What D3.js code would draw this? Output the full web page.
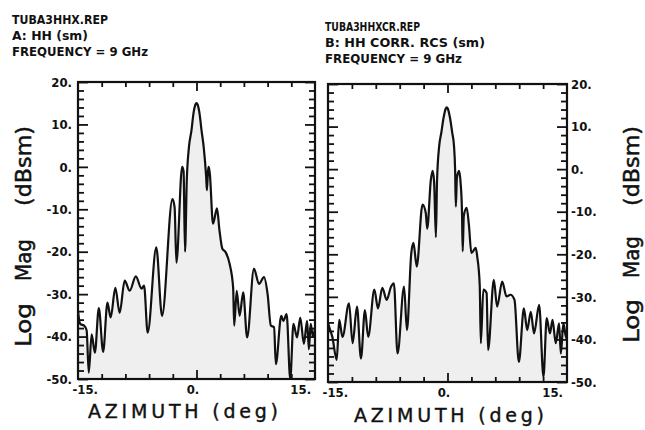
<!DOCTYPE html>
<html>
<head>
<meta charset="utf-8">
<script src="https://cdn.jsdelivr.net/npm/d3@7"></script>
<style>
  body { margin: 0; background: #fff; }
  text { font-family: "DejaVu Sans Condensed", "DejaVu Sans", sans-serif; fill: #111; }
</style>
</head>
<body>
<script>
/* A: HH (sm) -- azimuth (deg) / log mag (dBsm) */
const hhAz = [-16.5, -16.2, -15.6, -15.3, -15.0, -14.6, -14.15, -13.6, -13.0, -12.4, -11.95, -11.3,
  -10.7, -10.0, -9.3, -8.45, -7.65, -7.3, -6.8, -5.6, -4.8, -3.35, -3.05, -2.8, -2.0, -1.8, -1.6,
  -1.35, -1.05, -0.7, -0.42, -0.15, 0.0, 0.15, 0.42, 0.7, 1.0, 1.35, 1.45, 1.6, 1.7, 1.85, 2.3, 2.85, 3.2, 3.6,
  4.05, 4.6, 5.1, 5.25, 5.6, 6.0, 6.5, 7.05, 8.0, 8.7, 9.4, 9.9, 10.35, 10.8, 11.05, 11.8, 12.1,
  12.55, 13.05, 13.5, 14.0, 14.45, 14.95, 15.4, 15.65, 15.9, 16.2, 16.5]
const hhMag = [-34, -37, -37.5, -38.5, -48.5, -39.5, -43.8, -33.3, -43.6, -32, -35.5, -28.5,
  -34.4, -26.8, -29.2, -25.8, -28.7, -28, -39.1, -19, -35.1, -7.6, -9.5, -22.6, 0.0, -1.0, -20,
  -3, 4.7, 8.6, 12.6, 14.7, 15, 14.7, 12.6, 8.6, 4.7, -2.5, -5.5, -1, 0, -1.5, -13.4, -9.8, -15, -19.3,
  -20.1, -22.8, -28.4, -37.4, -29.2, -35.1, -29.6, -40.2, -24, -27.6, -26, -30, -37.4, -37.8, -46.5, -35.1, -36.3,
  -34.7, -50, -37, -40.2, -35.5, -41.7, -36.3, -43, -37, -40, -38]

/* B: HH CORR. RCS (sm) -- right plot */
const corrAz = [-16.5, -16.35, -15.9, -15.3, -14.95, -14.5, -13.6, -13.1, -12.5, -11.95, -11.4, -10.95,
  -10.1, -9.6, -9.0, -8.4, -7.8, -7.4, -6.9, -6.0, -5.6, -5.0, -4.7, -4.25, -3.45, -3.0, -2.8,
  -2.3, -2.05, -1.85, -1.6, -1.45, -1.15, -0.85, -0.55, -0.25, -0.1, 0.05, 0.35, 0.65, 0.9, 1.05, 1.15, 1.3,
  1.6, 1.8, 2.0, 2.1, 2.25, 2.65, 2.95, 3.3, 3.9, 4.1, 4.45, 4.6, 4.95, 5.4, 5.6, 6.4, 6.85,
  7.55, 8.15, 8.7, 9.25, 9.85, 10.55, 11.0, 11.5, 11.95, 12.65, 13.25, 13.7, 14.15, 14.5, 14.95,
  15.4, 15.65, 16.0, 16.3, 16.5]
const corrMag = [-36, -37, -39.4, -44.8, -35.4, -39.4, -31.5, -40.9, -32.3, -44.5, -33.1, -39.4,
  -28.3, -32.7, -27.9, -30.7, -27.6, -26.8, -43.3, -27.6, -37.8, -19.7, -17.3, -22.9, -8.3, -10.3, -14,
  -2.5, -0.4, -3, -16, -3, 5.4, 8.6, 12, 14.2, 14.5, 14.2, 12, 8.6, 5.4, 0, -8.8, -2,
  -0.4, -3, -10, -19.3, -11, -9.1, -13, -19.7, -18.5, -20.5, -27.2, -40.9, -28.3, -29.1, -42.5, -26, -32.3,
  -26.4, -29.9, -29.5, -30.7, -45.3, -32.7, -37.8, -33.5, -38.6, -31.9, -48.8, -35, -38.6, -35.4, -40.9,
  -36.2, -43.3, -36.2, -39, -40]

const magLabels = [20, 10, 0, -10, -20, -30, -40, -50]
const magMinor = [-48, -46, -44, -42, -38, -36, -34, -32, -28, -26, -24, -22, -18, -16, -14, -12,
  -8, -6, -4, -2, 2, 4, 6, 8, 12, 14, 16, 18]
const azLabels = [-15, 0, 15]
const azTicks = [-13.2, -9.9, -6.6, -3.3, 0, 3.3, 6.6, 9.9, 13.2]

const leftHeader = ['TUBA3HHX.REP', 'A: HH (sm)', 'FREQUENCY = 9 GHz']
const rightHeader = ['TUBA3HHXCR.REP', 'B: HH CORR. RCS (sm)', 'FREQUENCY = 9 GHz']

const width = 645, height = 430

const svg = d3.select('body')
  .append('svg')
  .attr('width', width)
  .attr('height', height)

const fmt = d => d + '.'

const drawPanel = (p) => {
  const x = d3.scaleLinear().domain([-16.5, 16.5]).range([p.left, p.right])
  const y = d3.scaleLinear().domain([-50, 20]).range([p.bottom, p.top])
  const pts = p.az.map((a, i) => ({az: a, mag: p.mag[i]}))
  const g = svg.append('g')

  // shaded area under the trace
  g.append('path')
    .datum(pts)
    .attr('fill', '#efefef')
    .attr('d', d3.area().curve(d3.curveMonotoneX)
      .x(d => x(d.az)).y0(p.bottom).y1(d => y(d.mag)))

  g.append('path')
    .datum(pts)
    .attr('fill', 'none')
    .attr('stroke', '#111')
    .attr('stroke-width', 2.2)
    .attr('stroke-linejoin', 'round')
    .attr('d', d3.line().curve(d3.curveMonotoneX)
      .x(d => x(d.az)).y(d => y(d.mag)))

  /* inner ticks on all four sides */
  const tickAxes = [
    [d3.axisTop(x).tickValues(azTicks).tickSize(5), `translate(0,${p.bottom})`],
    [d3.axisBottom(x).tickValues(azTicks).tickSize(5), `translate(0,${p.top})`],
    [d3.axisRight(y).tickValues(magMinor).tickSize(6), `translate(${p.left},0)`],
    [d3.axisRight(y).tickValues(magLabels).tickSize(10), `translate(${p.left},0)`],
    [d3.axisLeft(y).tickValues(magMinor).tickSize(6), `translate(${p.right},0)`],
    [d3.axisLeft(y).tickValues(magLabels).tickSize(10), `translate(${p.right},0)`]
  ]
  tickAxes.forEach(([axis, tr], i) => {
    const a = g.append('g').attr('transform', tr).call(axis.tickFormat(''))
    a.select('.domain').remove()
    a.selectAll('line').attr('stroke', '#111').attr('stroke-width', 1.8)
    if (i < 2) a.selectAll('.tick').filter(d => d === 0).select('line').attr('y2', i === 0 ? -9 : 9)
  })

  g.append('rect')
    .attr('x', p.left).attr('y', p.top)
    .attr('width', p.right - p.left).attr('height', p.bottom - p.top)
    .attr('fill', 'none').attr('stroke', '#111').attr('stroke-width', 2.2)

  /* tick labels */
  const xl = g.append('g')
    .attr('transform', `translate(0,${p.bottom})`)
    .call(d3.axisBottom(x).tickValues(azLabels).tickSize(0).tickPadding(6).tickFormat(fmt))
  xl.select('.domain').remove()
  xl.selectAll('text').attr('dx', -4).style('font-size', '13px').style('font-weight', 'bold')

  const yAxis = p.labelSide === 'left' ? d3.axisLeft(y) : d3.axisRight(y)
  const yl = g.append('g')
    .attr('transform', `translate(${p.labelSide === 'left' ? p.left : p.right},0)`)
    .call(yAxis.tickValues(magLabels).tickSize(0).tickPadding(p.labelSide === 'left' ? 6 : 4).tickFormat(fmt))
  yl.select('.domain').remove()
  yl.selectAll('text').style('font-size', '13px').style('font-weight', 'bold')

  /* axis titles */
  g.append('text')
    .attr('x', p.xTitle[0]).attr('y', p.xTitle[1])
    .attr('text-anchor', 'middle')
    .attr('textLength', 190).attr('lengthAdjust', 'spacing')
    .style('font-family', '"DejaVu Sans", sans-serif')
    .style('font-size', '19px')
    .style('stroke', '#111').style('stroke-width', 0.4)
    .text('AZIMUTH (deg)')

  const words = [['Log', p.yTitle[1], 44], ['Mag', p.yTitle[2], 42], ['(dBsm)', p.yTitle[3], 80]]
  words.forEach(([w, cy, len]) => {
    g.append('text')
      .attr('transform', `translate(${p.yTitle[0]},${cy}) rotate(-90)`)
      .attr('text-anchor', 'middle')
      .attr('textLength', len).attr('lengthAdjust', 'spacingAndGlyphs')
      .style('font-family', '"DejaVu Sans", sans-serif')
      .style('font-size', '22px')
      .style('stroke', '#111').style('stroke-width', 0.5)
      .text(w)
  })

  /* header lines */
  p.header.forEach((line, i) => {
    g.append('text')
      .attr('x', p.headX).attr('y', p.headY + i * 16)
      .attr('textLength', p.headLen[i]).attr('lengthAdjust', 'spacingAndGlyphs')
      .style('font-size', '12.5px').style('font-weight', 'bold')
      .text(line)
  })
}

drawPanel({
  az: hhAz, mag: hhMag,
  left: 78, right: 315, top: 82, bottom: 379,
  labelSide: 'left',
  xTitle: [183, 418],
  yTitle: [31, 325, 260, 166],
  header: leftHeader, headX: 12, headY: 24, headLen: [96, 76, 136]
})

drawPanel({
  az: corrAz, mag: corrMag,
  left: 328, right: 567, top: 84, bottom: 382,
  labelSide: 'right',
  xTitle: [449, 422],
  yTitle: [639, 321, 257, 166],
  header: rightHeader, headX: 325, headY: 31, headLen: [95, 160, 137]
})
</script>
</body>
</html>
